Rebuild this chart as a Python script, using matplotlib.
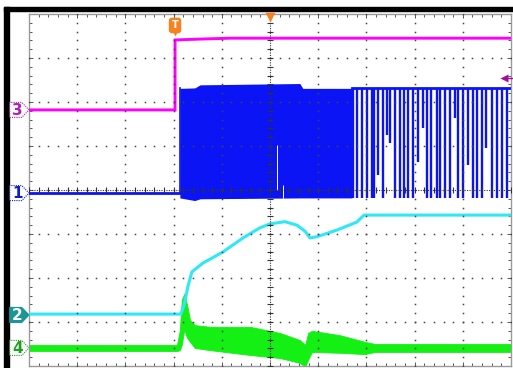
import numpy as np
import matplotlib
matplotlib.use("Agg")
import matplotlib.pyplot as plt
from matplotlib.patches import Polygon, Rectangle

# ---------------- data (screen divisions: x 0..10, y 0..8) ----------------
# Channel 3 (magenta)
ch3_t = [0.0, 3.03, 3.03, 3.55, 4.17, 10.0]
ch3_v = [5.82, 5.82, 7.41, 7.43, 7.45, 7.45]

# Channel 1 (blue) baseline before switching
ch1_base_t = [0.0, 3.13]
ch1_base_v = [3.93, 3.93]
# Channel 1 dense switching envelope
ch1_env_t = [3.13, 3.44, 3.55, 5.62, 5.68, 6.70]
ch1_env_top = [6.31, 6.32, 6.39, 6.42, 6.31, 6.31]
ch1_env_bot = [3.82, 3.76, 3.80, 3.82, 3.82, 3.82]
ch1_gap_t = [5.15, 5.27]
ch1_gap_lo = [4.00, 3.82]
ch1_gap_hi = [5.02, 4.11]
# Channel 1 separate pulses (time, lowest level reached)
ch1_high = 6.31
ch1_pulse_t = [6.73, 6.81, 6.90, 7.01, 7.11, 7.16, 7.25, 7.35, 7.42, 7.50,
               7.59, 7.70, 7.78, 7.87, 7.97, 8.08, 8.17, 8.25, 8.35, 8.46,
               8.53, 8.63, 8.73, 8.84, 8.91, 9.01, 9.11, 9.22, 9.29, 9.39,
               9.49, 9.60, 9.70, 9.81, 9.91]
ch1_pulse_lo = [3.82, 3.82, 3.82, 3.82, 3.82, 3.82, 4.34, 3.82, 5.25, 5.07,
                3.82, 3.82, 3.82, 3.82, 3.82, 4.64, 5.41, 3.82, 3.82, 3.82,
                3.82, 3.82, 3.82, 5.64, 3.82, 3.82, 4.57, 3.82, 3.82, 3.82,
                4.95, 3.82, 3.82, 3.82, 3.82]

# Channel 2 (cyan)
ch2_t = [0.0, 3.15, 3.22, 3.30, 3.38, 3.61, 4.02, 4.44, 4.79, 5.00, 5.31,
         5.56, 5.73, 5.83, 5.98, 6.39, 6.80, 6.95, 10.0]
ch2_v = [1.18, 1.18, 1.39, 1.82, 2.14, 2.34, 2.59, 2.91, 3.14, 3.23, 3.28,
         3.20, 3.06, 2.91, 2.94, 3.09, 3.27, 3.43, 3.43]

# Channel 4 (green) envelope
ch4_t = [0.0, 3.07, 3.13, 3.17, 3.22, 3.28, 3.34, 3.44, 3.76, 4.59, 5.21,
         5.62, 5.73, 5.79, 5.87, 6.45, 6.97, 7.18, 10.0]
ch4_top = [0.48, 0.48, 0.82, 1.50, 1.64, 1.39, 1.05, 0.93, 0.89, 0.89, 0.75,
           0.59, 0.48, 0.75, 0.80, 0.70, 0.55, 0.50, 0.50]
ch4_bot = [0.34, 0.34, 0.36, 0.48, 0.82, 0.64, 0.55, 0.41, 0.36, 0.25, 0.18,
           0.07, -0.02, 0.14, 0.32, 0.30, 0.27, 0.32, 0.32]

# channel reference markers: label, level
marker_labels = ["3", "1", "2", "4"]
marker_levels = [5.82, 3.93, 1.16, 0.41]

trig_time = 3.03
trig_level = 6.55

C_MAG = "#ff00ff"
C_BLUE = "#0a14f5"
C_CYAN = "#2ee8f5"
C_GREEN = "#14f014"
C_ORANGE = "#f58220"
C_TEAL = "#1a9696"

# ---------------- figure ----------------
W, H = 513, 368
fig = plt.figure(figsize=(W / 100, H / 100), dpi=100)
fig.patch.set_facecolor("white")

bg = fig.add_axes([0, 0, 1, 1], zorder=0)
bg.set_xlim(0, W)
bg.set_ylim(H, 0)
bg.axis("off")
bg.add_patch(Rectangle((4, 7), W - 4, 4, color="black"))
bg.add_patch(Rectangle((4, 7), 5, H - 7, color="black"))

x0, x1, y0, y1 = 29, 511, 14, 366
ax = fig.add_axes([x0 / W, (H - y1) / H, (x1 - x0) / W, (y1 - y0) / H], zorder=1)
ax.set_xlim(0, 10)
ax.set_ylim(0, 8)
ax.set_facecolor("white")
for s in ax.spines.values():
    s.set_color("#9a9a9a")
    s.set_linewidth(1.0)
ax.set_xticks(np.arange(0, 10.01, 1))
ax.set_yticks(np.arange(0, 8.01, 1))
ax.set_xticks(np.arange(0, 10.01, 0.2), minor=True)
ax.set_yticks(np.arange(0, 8.01, 0.2), minor=True)
ax.tick_params(which="both", direction="in", top=True, right=True,
               labelbottom=False, labelleft=False, color="#555555", width=0.7)
ax.tick_params(which="major", length=3)
ax.tick_params(which="minor", length=2)

# grid dots
gx, gy = [], []
for xv in range(1, 10):
    if xv == 5:
        continue
    for k in range(0, 41):
        gx.append(xv); gy.append(k / 5)
for yv in range(1, 8):
    if yv == 4:
        continue
    for k in range(0, 51):
        gx.append(k / 5); gy.append(yv)
ax.plot(gx, gy, ls="none", marker="s", ms=1.1, mec="none", mfc="#444444", zorder=6)
ax.axvline(5, color="#333333", lw=0.8, ls=(0, (1, 1.2)), zorder=6)
ax.axhline(4, color="#333333", lw=0.8, ls=(0, (1, 1.2)), zorder=6)
ax.plot([5] * 41, np.arange(0, 41) / 5, ls="none", marker="_", ms=4, mew=0.8,
        color="#333333", zorder=6)
ax.plot(np.arange(0, 51) / 5, [4] * 51, ls="none", marker="|", ms=4, mew=0.8,
        color="#333333", zorder=6)

# ---------------- traces ----------------
ax.plot(ch3_t, ch3_v, color=C_MAG, lw=2.1, zorder=3, solid_joinstyle="miter")

ax.plot(ch1_base_t, ch1_base_v, color=C_BLUE, lw=2.0, zorder=3)
ax.fill_between(ch1_env_t, ch1_env_bot, ch1_env_top, color=C_BLUE, lw=0, zorder=3)
ax.plot([ch1_env_t[0], ch1_env_t[0]], [ch1_base_v[-1], ch1_env_top[0]],
        color=C_BLUE, lw=1.2, zorder=3)
ax.vlines(ch1_gap_t, ch1_gap_lo, ch1_gap_hi, color="white", lw=0.7, zorder=3)
ax.vlines(ch1_pulse_t, ch1_pulse_lo, [ch1_high] * len(ch1_pulse_t),
          color=C_BLUE, lw=1.7, zorder=3)
ax.plot([ch1_env_t[-1], 10], [ch1_high, ch1_high], color=C_BLUE, lw=2.0, zorder=3)

ax.fill_between(ch4_t, ch4_bot, ch4_top, color=C_GREEN, lw=0.6, ec=C_GREEN, zorder=2)
ax.plot(ch2_t, ch2_v, color=C_CYAN, lw=2.2, zorder=4)

# ---------------- markers ----------------
mh = 15 / 44
for lab, lev in zip(marker_labels, marker_levels):
    pts = [(-0.40, lev - mh / 2), (-0.15, lev - mh / 2), (0, lev),
           (-0.15, lev + mh / 2), (-0.40, lev + mh / 2)]
    if lab == "2":
        poly = Polygon(pts, closed=True, fc=C_TEAL, ec=C_TEAL, lw=0.8,
                       clip_on=False, zorder=8)
        tc = "white"
    else:
        col = {"3": "#b020b0", "1": "#1020c0", "4": "#20a020"}[lab]
        poly = Polygon(pts, closed=True, fc="white", ec=col, lw=0.8,
                       ls=(0, (1, 1)), clip_on=False, zorder=8)
        tc = col
    ax.add_patch(poly)
    ax.text(-0.245, lev - 0.01, lab, color=tc, fontsize=11, fontweight="bold",
            ha="center", va="center", clip_on=False, zorder=9)

ax.text(trig_time, 7.74, "T", color="white", fontsize=7, fontweight="bold",
        ha="center", va="center", zorder=9,
        bbox=dict(boxstyle="round,pad=0.22,rounding_size=0.25", fc=C_ORANGE,
                  ec=C_ORANGE))
ax.plot([trig_time], [7.56], marker="v", ms=4, color=C_ORANGE, mec="none",
        zorder=9)
ax.plot([5], [7.93], marker="v", ms=7, color=C_ORANGE, mec="none", zorder=9,
        clip_on=False)
ax.plot([9.86], [trig_level], marker="<", ms=6, color="#a0109a", mec="none",
        zorder=9, clip_on=False)
ax.plot([9.86, 10.05], [trig_level, trig_level], color="#a0109a", lw=1.0,
        zorder=9, clip_on=False)

fig.savefig("out.png", dpi=100, facecolor="white")
